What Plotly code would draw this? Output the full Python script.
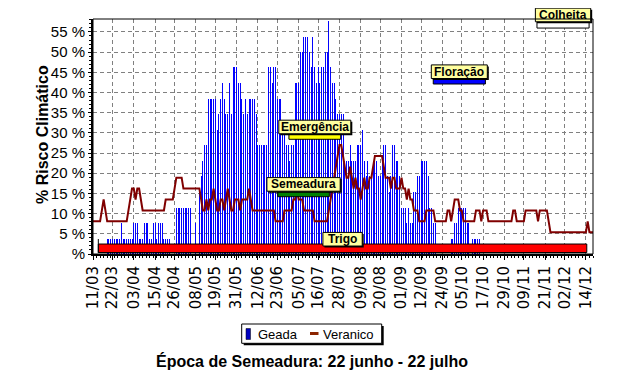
import plotly.graph_objects as go

# ---------------- data ----------------
tick_days = [0, 11, 23, 35, 46, 58, 69, 81, 93, 104, 116, 127, 139, 151, 162,
             174, 185, 197, 208, 220, 232, 243, 255, 266, 278]
tick_labels = ["11/03", "22/03", "03/04", "15/04", "26/04", "08/05", "19/05",
               "31/05", "12/06", "23/06", "05/07", "16/07", "28/07", "09/08",
               "20/08", "01/09", "12/09", "24/09", "05/10", "17/10", "29/10",
               "09/11", "21/11", "02/12", "14/12"]

# Geada (% risk), one value per day starting 11/03
geada = [
    0, 0, 0, 0, 0, 0, 0, 0, 3.8, 3.8,
    3.8, 3.8, 3.8, 3.8, 3.8, 3.8, 7.7, 3.8, 3.8, 3.8,
    3.8, 3.8, 3.8, 7.7, 7.7, 7.7, 3.8, 3.8, 3.8, 7.7,
    7.7, 7.7, 3.8, 3.8, 7.7, 7.7, 3.8, 7.7, 7.7, 7.7,
    3.8, 3.8, 3.8, 3.8, 0, 0, 0, 11.5, 11.5, 11.5,
    11.5, 11.5, 11.5, 11.5, 11.5, 11.5, 0, 0, 7.7, 0,
    15.4, 19.2, 23.1, 26.9, 26.9, 38.5, 38.5, 38.5, 38.5, 38.5,
    30.8, 34.6, 38.5, 42.3, 38.5, 34.6, 34.6, 42.3, 34.6, 46.2,
    46.2, 46.2, 42.3, 42.3, 38.5, 34.6, 38.5, 34.6, 38.5, 38.5,
    38.5, 38.5, 34.6, 26.9, 26.9, 26.9, 26.9, 26.9, 26.9, 46.2,
    46.2, 42.3, 46.2, 46.2, 38.5, 38.5, 38.5, 30.8, 30.8, 26.9,
    26.9, 23.1, 26.9, 26.9, 42.3, 42.3, 42.3, 50.0, 50.0, 53.8,
    53.8, 53.8, 50.0, 46.2, 53.8, 46.2, 42.3, 46.2, 42.3, 46.2,
    46.2, 50.0, 50.0, 57.7, 46.2, 42.3, 42.3, 38.5, 34.6, 34.6,
    34.6, 34.6, 23.1, 23.1, 23.1, 26.9, 23.1, 23.1, 23.1, 26.9,
    26.9, 26.9, 30.8, 23.1, 19.2, 23.1, 19.2, 19.2, 23.1, 23.1,
    23.1, 19.2, 19.2, 23.1, 26.9, 26.9, 19.2, 15.4, 19.2, 26.9,
    26.9, 23.1, 23.1, 19.2, 11.5, 11.5, 11.5, 7.7, 11.5, 7.7,
    7.7, 15.4, 15.4, 19.2, 19.2, 23.1, 23.1, 23.1, 23.1, 19.2,
    11.5, 11.5, 7.7, 7.7, 0, 0, 0, 0, 0, 0,
    0, 0, 3.8, 3.8, 7.7, 7.7, 11.5, 11.5, 11.5, 11.5,
    11.5, 7.7, 7.7, 0, 3.8, 3.8, 3.8, 3.8, 3.8, 0,
]

# Veranico (% risk), one value per day starting 11/03
veranico = [
    8.1, 8.1, 8.1, 8.1, 8.1, 10.8, 13.5, 10.8, 8.1, 8.1,
    8.1, 8.1, 8.1, 8.1, 8.1, 8.1, 8.1, 8.1, 8.1, 8.1,
    10.8, 13.5, 16.2, 16.2, 13.5, 16.2, 16.2, 13.5, 10.8, 10.8,
    10.8, 10.8, 10.8, 10.8, 10.8, 10.8, 10.8, 10.8, 10.8, 10.8,
    10.8, 13.5, 13.5, 13.5, 13.5, 13.5, 16.2, 18.9, 18.9, 18.9,
    18.9, 16.2, 16.2, 16.2, 16.2, 16.2, 16.2, 16.2, 16.2, 16.2,
    16.2, 13.5, 10.8, 10.8, 13.5, 10.8, 13.5, 13.5, 16.2, 13.5,
    10.8, 10.8, 13.5, 13.5, 10.8, 13.5, 16.2, 13.5, 10.8, 10.8,
    13.5, 13.5, 13.5, 10.8, 13.5, 13.5, 13.5, 13.5, 16.2, 13.5,
    10.8, 10.8, 10.8, 10.8, 10.8, 10.8, 10.8, 10.8, 10.8, 10.8,
    10.8, 10.8, 10.8, 8.1, 8.1, 8.1, 8.1, 8.1, 10.8, 10.8,
    10.8, 10.8, 10.8, 13.5, 13.5, 16.2, 13.5, 13.5, 13.5, 10.8,
    10.8, 10.8, 10.8, 10.8, 10.8, 8.1, 8.1, 8.1, 8.1, 8.1,
    8.1, 8.1, 8.1, 10.8, 13.5, 16.2, 18.9, 21.6, 24.3, 27.0,
    27.0, 24.3, 21.6, 18.9, 18.9, 21.6, 18.9, 16.2, 18.9, 16.2,
    16.2, 13.5, 16.2, 18.9, 16.2, 16.2, 18.9, 18.9, 21.6, 24.3,
    24.3, 24.3, 24.3, 24.3, 21.6, 18.9, 18.9, 18.9, 16.2, 18.9,
    18.9, 16.2, 16.2, 16.2, 18.9, 16.2, 16.2, 13.5, 16.2, 13.5,
    13.5, 10.8, 10.8, 10.8, 8.1, 8.1, 8.1, 8.1, 10.8, 10.8,
    10.8, 10.8, 10.8, 8.1, 8.1, 8.1, 8.1, 8.1, 8.1, 8.1,
    10.8, 10.8, 8.1, 10.8, 13.5, 13.5, 13.5, 10.8, 10.8, 8.1,
    8.1, 8.1, 8.1, 8.1, 8.1, 8.1, 10.8, 10.8, 10.8, 8.1,
    10.8, 10.8, 10.8, 8.1, 8.1, 8.1, 8.1, 8.1, 8.1, 8.1,
    8.1, 8.1, 8.1, 8.1, 8.1, 8.1, 8.1, 10.8, 10.8, 8.1,
    8.1, 8.1, 8.1, 8.1, 10.8, 10.8, 10.8, 10.8, 10.8, 10.8,
    10.8, 8.1, 10.8, 10.8, 10.8, 10.8, 10.8, 8.1, 5.4, 5.4,
    5.4, 5.4, 5.4, 5.4, 5.4, 5.4, 5.4, 5.4, 5.4, 5.4,
    5.4, 5.4, 5.4, 5.4, 5.4, 5.4, 5.4, 5.4, 5.4, 8.1,
    5.4, 5.4, 5.4,
]

# Crop phases (start/end in days from 11/03)
fases = ["Trigo", "Semeadura", "Emergência", "Floração", "Colheita"]
fase_inicio = [3.0, 104.2, 110.5, 191.9, 250.4]
fase_fim = [278.5, 133.3, 139.7, 221.3, 279.8]

y_tick_vals = [0, 5, 10, 15, 20, 25, 30, 35, 40, 45, 50, 55]
y_tick_text = ["%", "5 %", "10 %", "15 %", "20 %", "25 %", "30 %", "35 %",
               "40 %", "45 %", "50 %", "55 %"]

# ---------------- styles / layout ----------------
# The page body has an 8px margin, so the figure is 8px smaller than the window
PAGE_OFF = 8
W, H = 625 - PAGE_OFF, 389 - PAGE_OFF
ML, MR, MT, MB = 93 - PAGE_OFF, 32, 19 - PAGE_OFF, 135
PW, PH = W - ML - MR, H - MT - MB          # 500 x 235
PLOT_LEFT_PAGE, PLOT_BOTTOM_PAGE = 93, 254  # plot edges in window pixels

def px_x(px):
    return (px - PLOT_LEFT_PAGE) / PW

def px_y(py):
    return (PLOT_BOTTOM_PAGE - py) / PH

X_RANGE = [0, 282]
Y_RANGE = [0, 58.2]
DAY_PX = PW / (X_RANGE[1] - X_RANGE[0])

# vertical level of each phase bar (in % units of the y axis)
fase_nivel = [1.42, 14.81, 29.03, 42.72, 56.7]
fase_cor = ["#ff0000", "#008000", "#ffff00", "#0000ff", "#ffffff"]
fase_alt = [8.5, 5, 5, 5, 6]
caixa_larg = [39.3, 73.3, 72.0, 56.0, 55.3]
caixa_base = [2.25, 3.0, 3.0, 3.0, 3.3]
caixa_alt = 13.6
SOMBRA = 1.5

FONT = "Liberation Sans, Arial, sans-serif"
TICKFONT = "DejaVu Sans, sans-serif"

fig = go.Figure()
fig.add_trace(go.Bar(
    x=list(range(len(geada))), y=geada, name="Geada",
    marker=dict(color="rgba(0,0,255,0.99)", line=dict(width=0)),
    width=1.0 / DAY_PX,   # one screen pixel wide
    showlegend=False,
))
fig.add_trace(go.Scatter(
    x=list(range(len(veranico))), y=veranico, name="Veranico",
    mode="lines", line=dict(color="#800000", width=2), showlegend=False,
))

shapes = []
annotations = []

for i, nome in enumerate(fases):
    xc = (fase_inicio[i] + fase_fim[i]) / 2
    nivel_paper = (fase_nivel[i] - Y_RANGE[0]) / (Y_RANGE[1] - Y_RANGE[0])
    # phase bar
    shapes.append(dict(
        type="rect", xref="x", yref="paper", ysizemode="pixel", yanchor=nivel_paper,
        x0=fase_inicio[i], x1=fase_fim[i], y0=-fase_alt[i] / 2, y1=fase_alt[i] / 2,
        fillcolor=fase_cor[i], line=dict(color="black", width=1), layer="above",
    ))
    # label box shadow
    shapes.append(dict(
        type="rect", xref="x", yref="paper", xsizemode="pixel", ysizemode="pixel",
        xanchor=xc, yanchor=nivel_paper,
        x0=-caixa_larg[i] / 2 + SOMBRA, x1=caixa_larg[i] / 2 + SOMBRA,
        y0=caixa_base[i] - SOMBRA, y1=caixa_base[i] + caixa_alt - SOMBRA,
        fillcolor="black", line=dict(width=0), layer="above",
    ))
    # label box
    shapes.append(dict(
        type="rect", xref="x", yref="paper", xsizemode="pixel", ysizemode="pixel",
        xanchor=xc, yanchor=nivel_paper,
        x0=-caixa_larg[i] / 2, x1=caixa_larg[i] / 2,
        y0=caixa_base[i], y1=caixa_base[i] + caixa_alt,
        fillcolor="#ffffa0", line=dict(color="black", width=1), layer="above",
    ))
    annotations.append(dict(
        x=xc, y=fase_nivel[i], xref="x", yref="y", text=nome, showarrow=False,
        yshift=caixa_base[i] + caixa_alt / 2, xanchor="center", yanchor="middle",
        font=dict(family=FONT, size=12, color="black", weight="bold"),
    ))

# small black marker at the start of the Trigo bar
shapes.append(dict(
    type="line", xref="x", yref="paper", ysizemode="pixel",
    yanchor=(fase_nivel[0] - Y_RANGE[0]) / (Y_RANGE[1] - Y_RANGE[0]),
    x0=fase_inicio[0], x1=fase_inicio[0], y0=-4.75, y1=9.25,
    line=dict(color="black", width=1), layer="above",
))

# plot frame
shapes.append(dict(type="rect", xref="paper", yref="paper", x0=0, x1=1, y0=0, y1=1,
                   line=dict(color="black", width=1), layer="above"))

# custom legend
shapes.append(dict(type="rect", xref="paper", yref="paper",
                   x0=px_x(243.7), x1=px_x(383.7), y0=px_y(345.3), y1=px_y(326),
                   fillcolor="black", line=dict(width=0)))
shapes.append(dict(type="rect", xref="paper", yref="paper",
                   x0=px_x(241.7), x1=px_x(381.7), y0=px_y(343.3), y1=px_y(324),
                   fillcolor="white", line=dict(color="black", width=1)))
shapes.append(dict(type="rect", xref="paper", yref="paper",
                   x0=px_x(246), x1=px_x(250.5), y0=px_y(339.5), y1=px_y(328.5),
                   fillcolor="#0000c0", line=dict(color="black", width=0.5)))
shapes.append(dict(type="line", xref="paper", yref="paper",
                   x0=px_x(310), x1=px_x(318.5), y0=px_y(333.5), y1=px_y(333.5),
                   line=dict(color="#8b2500", width=3)))
annotations.append(dict(x=px_x(255.5), y=px_y(334), xref="paper", yref="paper",
                        text="Geada", showarrow=False, xanchor="left", yanchor="middle",
                        font=dict(family=FONT, size=13, color="black")))
annotations.append(dict(x=px_x(320.5), y=px_y(334), xref="paper", yref="paper",
                        text="Veranico", showarrow=False, xanchor="left", yanchor="middle",
                        font=dict(family=FONT, size=13, color="black")))

# axis titles
annotations.append(dict(x=px_x(42), y=px_y(135), xref="paper", yref="paper",
                        text="% Risco Climático", showarrow=False, textangle=-90,
                        xanchor="center", yanchor="middle",
                        font=dict(family=FONT, size=16, color="black", weight="bold")))
annotations.append(dict(x=px_x(311.7), y=px_y(360.5), xref="paper", yref="paper",
                        text="Época de Semeadura: 22 junho - 22 julho", showarrow=False,
                        xanchor="center", yanchor="middle",
                        font=dict(family=FONT, size=16, color="black", weight="bold")))

fig.update_layout(
    width=W, height=H,
    margin=dict(l=ML, r=MR, t=MT, b=MB, pad=0),
    paper_bgcolor="white", plot_bgcolor="white",
    bargap=0, showlegend=False,
    shapes=shapes, annotations=annotations,
    xaxis=dict(
        range=X_RANGE, tickmode="array", tickvals=tick_days, ticktext=tick_labels,
        tickangle=-90, ticks="outside", ticklen=4, tickcolor="black",
        tickfont=dict(family=TICKFONT, size=15, color="black"),
        showgrid=True, gridcolor="#808080", gridwidth=1, griddash="4px,3px",
        showline=True, linecolor="black", linewidth=2, zeroline=False,
        minor=dict(ticks="outside", ticklen=2, tickcolor="black", dtick=2, tick0=0,
                   showgrid=False),
        automargin=False, fixedrange=True,
    ),
    yaxis=dict(
        range=Y_RANGE, tickmode="array", tickvals=y_tick_vals, ticktext=y_tick_text,
        ticks="outside", ticklen=3, tickcolor="black",
        tickfont=dict(family=FONT, size=15, color="black"),
        showgrid=True, gridcolor="#808080", gridwidth=1, griddash="4px,3px",
        showline=True, linecolor="black", linewidth=2, zeroline=False,
        minor=dict(ticks="outside", ticklen=2, tickcolor="black", dtick=1,
                   showgrid=False),
        automargin=False, fixedrange=True,
    ),
)

fig.write_html("out.html")
